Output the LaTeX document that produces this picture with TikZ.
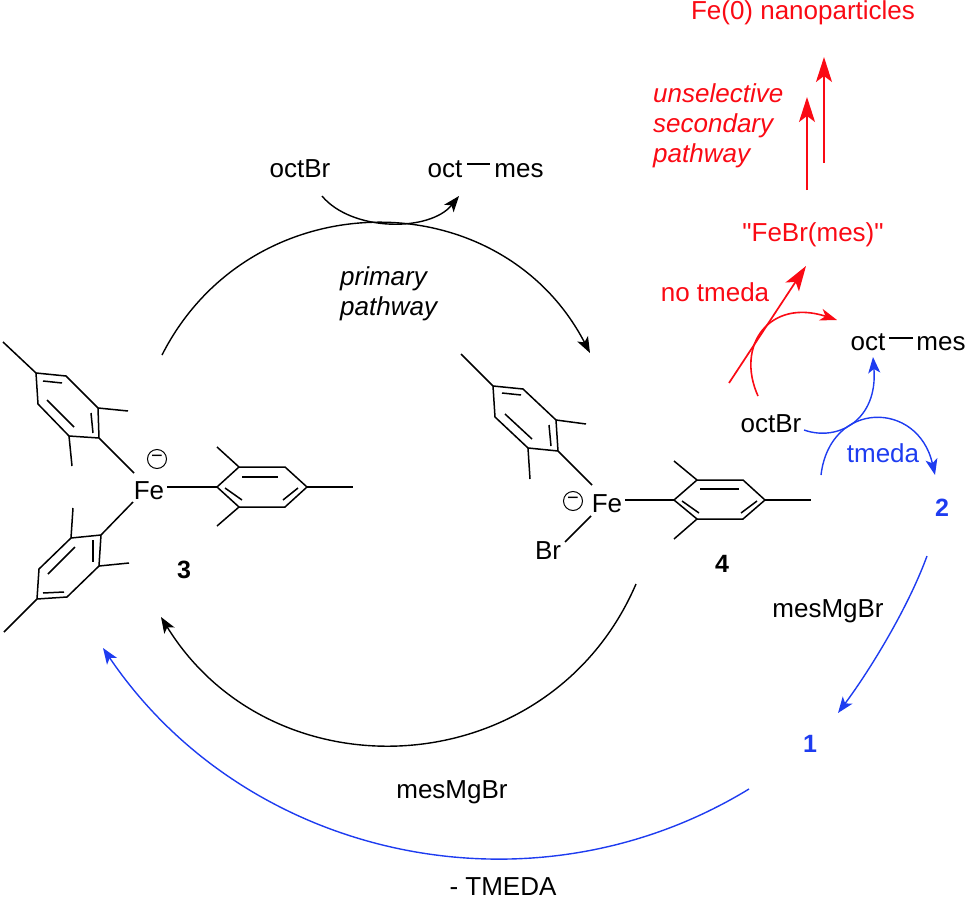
\documentclass[tikz,border=0pt]{standalone}
\usepackage{fontspec}
\setmainfont[Ligatures=TeXOff]{Liberation Sans}
\usepackage{xcolor}
\usetikzlibrary{arrows.meta}
\definecolor{pathred}{RGB}{250,10,20}
\definecolor{pathblue}{RGB}{30,60,240}
\tikzset{
  lbl/.style={inner sep=0pt,font=\fontsize{26}{30}\selectfont,text height=19pt,text depth=3pt},
  num/.style={inner sep=0pt,font=\fontsize{25}{30}\selectfont\bfseries,text height=18pt,text depth=0pt},
  ital/.style={inner sep=0pt,anchor=north west,align=left,font=\fontsize{26}{30}\selectfont\itshape},
  charge/.style={circle,draw,line width=1pt,inner sep=0pt,minimum size=19pt,font=\fontsize{20}{20}\selectfont},
  bond/.style={line width=1.5pt},
  curve/.style={line width=1.4pt,-{Stealth[length=16pt,width=12pt,inset=4pt]}},
  redcurve/.style={pathred,line width=1.6pt,-{Stealth[length=17pt,width=12pt,inset=5pt]}},
  redbig/.style={pathred,line width=1.7pt,-{Stealth[length=25pt,width=16pt,inset=6pt]}},
  bluecurve/.style={pathblue,line width=1.4pt,-{Stealth[length=16pt,width=12pt,inset=4pt]}}
}
\begin{document}
\begin{tikzpicture}[x=1pt,y=-1pt]
\useasboundingbox (0,0) rectangle (967,899);

% complex 3
\node [lbl] (fea) at (149,491) {Fe};
\node [charge] (minusa) at (157,459) {−};
\node [num] (three) at (184,569) {3};

\coordinate (a) at (36,373);
\coordinate (b) at (66,376);
\coordinate (c) at (98,408);
\coordinate (d) at (99,438);
\coordinate (e) at (69,436);
\coordinate (f) at (38,404);
\coordinate (ma) at (3,342);
\coordinate (mc) at (128,411);
\coordinate (me) at (72,466);
\coordinate (fa) at (134,473);
\draw [bond] (a)--(b)--(c)--(d)--(e)--(f)--cycle;
\draw [bond] (a)--(ma);
\draw [bond] (c)--(mc);
\draw [bond] (e)--(me);
\draw [bond] (d)--(fa);
\coordinate (ia) at (43,381);
\coordinate (ib) at (62,383);
\coordinate (ic) at (91,413);
\coordinate (id) at (93,433);
\coordinate (ie) at (74,427);
\coordinate (if) at (47,400);
\draw [bond] (ia)--(ib);
\draw [bond] (ic)--(id);
\draw [bond] (ie)--(if);

\coordinate (g) at (217,487);
\coordinate (h) at (239,467);
\coordinate (i) at (285,467);
\coordinate (j) at (307,487);
\coordinate (k) at (285,507);
\coordinate (l) at (239,507);
\coordinate (mh) at (217,447);
\coordinate (ml) at (217,526);
\coordinate (mj) at (353,487);
\coordinate (fb) at (167,487);
\draw [bond] (g)--(h)--(i)--(j)--(k)--(l)--cycle;
\draw [bond] (h)--(mh);
\draw [bond] (l)--(ml);
\draw [bond] (j)--(mj);
\draw [bond] (g)--(fb);
\coordinate (ig) at (242,477);
\coordinate (ih) at (278,477);
\coordinate (ii) at (225,488);
\coordinate (ij) at (242,500);
\coordinate (ik) at (283,500);
\coordinate (il) at (298,488);
\draw [bond] (ig)--(ih);
\draw [bond] (ii)--(ij);
\draw [bond] (ik)--(il);

\coordinate (n) at (101,535);
\coordinate (o) at (71,538);
\coordinate (p) at (39,569);
\coordinate (q) at (37,599);
\coordinate (r) at (67,597);
\coordinate (s) at (99,566);
\coordinate (mo) at (73,508);
\coordinate (ms) at (129,563);
\coordinate (mq) at (4,632);
\coordinate (fc) at (133,502);
\draw [bond] (n)--(o)--(p)--(q)--(r)--(s)--cycle;
\draw [bond] (o)--(mo);
\draw [bond] (s)--(ms);
\draw [bond] (q)--(mq);
\draw [bond] (n)--(fc);
\coordinate (in) at (93,540);
\coordinate (io) at (93,562);
\coordinate (ip) at (75,547);
\coordinate (iq) at (48,574);
\coordinate (ir) at (43,593);
\coordinate (is) at (64,592);
\draw [bond] (in)--(io);
\draw [bond] (ip)--(iq);
\draw [bond] (ir)--(is);

% complex 4
\node [lbl] (feb) at (607,504) {Fe};
\node [charge] (minusb) at (573,501) {−};
\node [lbl] (brb) at (548,551) {Br};
\node [num] (four) at (722,563) {4};

\coordinate (t) at (493,386);
\coordinate (u) at (523,389);
\coordinate (v) at (556,420);
\coordinate (w) at (558,451);
\coordinate (x) at (528,448);
\coordinate (y) at (495,417);
\coordinate (mt) at (461,354);
\coordinate (mv) at (586,424);
\coordinate (mx) at (530,479);
\coordinate (fd) at (592,485);
\draw [bond] (t)--(u)--(v)--(w)--(x)--(y)--cycle;
\draw [bond] (t)--(mt);
\draw [bond] (v)--(mv);
\draw [bond] (x)--(mx);
\draw [bond] (w)--(fd);
\coordinate (it) at (502,393);
\coordinate (iu) at (521,395);
\coordinate (iv) at (549,425);
\coordinate (iw) at (551,446);
\coordinate (ix) at (532,439);
\coordinate (iy) at (505,414);
\draw [bond] (it)--(iu);
\draw [bond] (iv)--(iw);
\draw [bond] (ix)--(iy);

\coordinate (aa) at (674,500);
\coordinate (ab) at (697,480);
\coordinate (ac) at (743,480);
\coordinate (ad) at (765,500);
\coordinate (ae) at (743,519);
\coordinate (af) at (697,519);
\coordinate (mab) at (674,461);
\coordinate (maf) at (674,539);
\coordinate (mad) at (811,500);
\coordinate (fe) at (625,500);
\draw [bond] (aa)--(ab)--(ac)--(ad)--(ae)--(af)--cycle;
\draw [bond] (ab)--(mab);
\draw [bond] (af)--(maf);
\draw [bond] (ad)--(mad);
\draw [bond] (aa)--(fe);
\coordinate (iaa) at (700,489);
\coordinate (iab) at (739,489);
\coordinate (iac) at (682,501);
\coordinate (iad) at (699,513);
\coordinate (iae) at (741,513);
\coordinate (iaf) at (757,501);
\draw [bond] (iaa)--(iab);
\draw [bond] (iac)--(iad);
\draw [bond] (iae)--(iaf);
\coordinate (ff) at (591,516);
\coordinate (fg) at (565,542);
\draw [bond] (ff)--(fg);

% primary pathway
\node [lbl] (octbra) at (300,169) {octBr};
\node [lbl] (octa) at (445,169) {oct};
\node [lbl] (mesa) at (519,169) {mes};
\coordinate (oa) at (467,164);
\coordinate (ob) at (490,164);
\draw [bond] (oa)--(ob);
\node [ital] (primary) at (340,266) {primary\\pathway};
\node [lbl] (mesmgbra) at (452,790) {mesMgBr};
\node [lbl] (tmedab) at (503,887) {- TMEDA};

\coordinate (pa) at (322,196);
\coordinate (pb) at (459,196);
\draw [curve] (pa) .. controls (352,232) and (430,232) .. (pb);
\coordinate (pc) at (162,355);
\coordinate (pd) at (590,353);
\draw [curve] (pc) .. controls (251,180) and (500,180) .. (pd);
\coordinate (pe) at (636,584);
\coordinate (pf) at (161,617);
\draw [curve] (pe) .. controls (550,784) and (274,800) .. (pf);

% blue cycle
\node [lbl,pathblue] (tmeda) at (883,454) {tmeda};
\node [num,pathblue] (two) at (942,507) {2};
\node [num,pathblue] (one) at (810,743) {1};
\node [lbl] (mesmgbrb) at (828,609) {mesMgBr};
\node [lbl] (octbrb) at (771,424) {octBr};
\node [lbl] (octb) at (868,342) {oct};
\node [lbl] (mesb) at (941,342) {mes};
\coordinate (oc) at (889,338);
\coordinate (od) at (913,338);
\draw [bond] (oc)--(od);

\coordinate (qa) at (804,430);
\coordinate (qb) at (873,357);
\draw [bluecurve] (qa) .. controls (838,442) and (878,420) .. (qb);
\coordinate (qc) at (821,475);
\coordinate (qd) at (935,475);
\draw [bluecurve] (qc) .. controls (830,400) and (918,400) .. (qd);
\coordinate (qe) at (927,556);
\coordinate (qf) at (838,713);
\draw [bluecurve] (qe) .. controls (908,608) and (870,670) .. (qf);
\coordinate (qg) at (749,789);
\coordinate (qh) at (103,648);
\draw [bluecurve] (qg) .. controls (531,922) and (246,859) .. (qh);

% red pathway
\node [lbl,pathred] (fezero) at (803,12) {Fe(0) nanoparticles};
\node [ital,pathred] (unsel) at (653,83) {unselective\\secondary\\pathway};
\node [lbl,pathred] (febr) at (813,233) {"FeBr(mes)"};
\node [lbl,pathred] (notmeda) at (715,293) {no tmeda};

\coordinate (ra) at (807,190);
\coordinate (rb) at (807,97);
\draw [redbig] (ra)--(rb);
\coordinate (rc) at (824,163);
\coordinate (rd) at (824,57);
\draw [redbig] (rc)--(rd);
\coordinate (re) at (729,383);
\coordinate (rf) at (806,266);
\draw [redbig] (re)--(rf);
\coordinate (rg) at (758,396);
\coordinate (rh) at (837,320);
\draw [redcurve] (rg) .. controls (735,345) and (770,298) .. (rh);

\end{tikzpicture}
\end{document}
